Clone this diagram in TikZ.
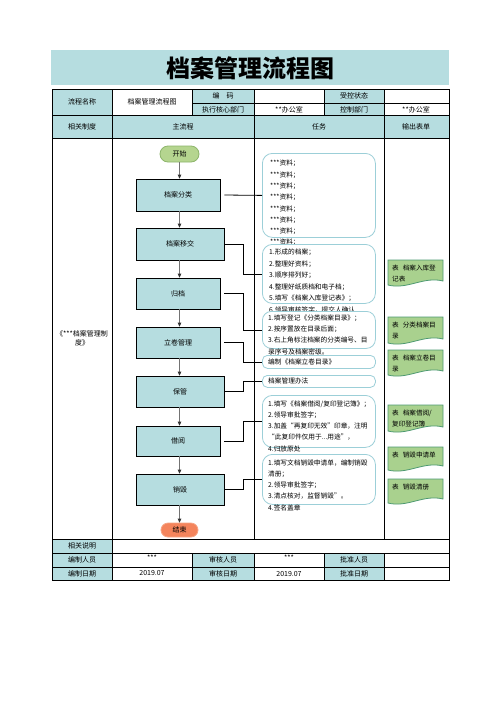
\documentclass[tikz,border=0pt]{standalone}
\usepackage{fontspec}
\setmainfont{Noto Sans CJK SC}
\usetikzlibrary{arrows.meta}
\definecolor{hdcol}{HTML}{B6DDE0}
\definecolor{tbcol}{HTML}{9CCFD8}
\definecolor{docfill}{HTML}{A9D18E}
\definecolor{docline}{HTML}{4E9A72}
\definecolor{startfill}{HTML}{B5D58F}
\definecolor{startline}{HTML}{8DB56B}
\definecolor{endfill}{HTML}{F4845C}
\definecolor{endline}{HTML}{F6A585}
\newcommand\outdoc[6]{%
  \draw[docst] (#2,#3) -- (#4,#3) -- ({#4},{#5-5}) .. controls ({#2+0.65*(#4-#2)},{#5-10}) and ({#2+0.35*(#4-#2)},{#5+4}) .. ({#2},{#5-1}) -- cycle;
  \node[doctext] (#1) at ({#2+4},{#3+5}) {#6};
}
\begin{document}
\begin{tikzpicture}[x=1pt,y=-1pt,
  tfont/.style={font=\fontsize{7}{8}\selectfont},
  cell/.style={tfont,inner sep=0pt},
  grid/.style={line width=0.8pt,black},
  flowbox/.style={draw=black,fill=hdcol,line width=0.8pt,inner sep=0pt,tfont},
  taskbox/.style={draw=tbcol,fill=white,line width=0.8pt,inner sep=0pt,anchor=north west},
  tasktext/.style={font=\fontsize{6.7}{11.3}\selectfont,inner sep=0pt,anchor=north west,align=left},
  conn/.style={line width=0.8pt,black},
  arr/.style={line width=0.9pt,black!55,-{Triangle[length=4pt,width=3.6pt,color=black!80]}},
  docst/.style={draw=docline,fill=docfill,line width=0.8pt},
  doctext/.style={font=\fontsize{6.6}{11}\selectfont,inner sep=0pt,anchor=north west,align=left}
]
\useasboundingbox (0,0) rectangle (496,702);
\fill[white] (0,0) rectangle (496,702);
% title band
\fill[hdcol] (51,50) rectangle (449,85);
\node[font=\fontsize{24}{24}\selectfont\bfseries,inner sep=0pt] (title) at (250,68) {档案管理流程图};
% teal cells
\fill[hdcol] (52,89) rectangle (112,115);
\fill[hdcol] (192,89) rectangle (254,115);
\fill[hdcol] (324,89) rectangle (384,115);
\fill[hdcol] (52,115) rectangle (449,138);
\fill[hdcol] (52,539) rectangle (112,580);
\fill[hdcol] (192,553) rectangle (254,580);
\fill[hdcol] (324,553) rectangle (384,580);
% grid
\draw[grid,line width=1pt] (52,89) rectangle (449,580);
\draw[grid] (52,115) -- (449,115);
\draw[grid] (52,138) -- (449,138);
\draw[grid] (52,539) -- (449,539);
\draw[grid] (52,553) -- (449,553);
\draw[grid] (52,567) -- (449,567);
\draw[grid] (192,103) -- (449,103);
\draw[grid] (112,89) -- (112,580);
\draw[grid] (192,89) -- (192,115);
\draw[grid] (192,553) -- (192,580);
\draw[grid] (254,89) -- (254,539);
\draw[grid] (254,553) -- (254,580);
\draw[grid] (324,89) -- (324,115);
\draw[grid] (324,553) -- (324,580);
\draw[grid] (384,89) -- (384,539);
\draw[grid] (384,553) -- (384,580);
% table texts
\node[cell] (h1) at (82,102) {流程名称};
\node[cell] (h2) at (152,102) {档案管理流程图};
\node[cell] (h3) at (223,96) {编\hspace{7pt}码};
\node[cell] (h4) at (223,109.5) {执行核心部门};
\node[cell] (h5) at (354,96) {受控状态};
\node[cell] (h6) at (354,109.5) {控制部门};
\node[cell] (h7) at (289,109.5) {**办公室};
\node[cell] (h8) at (416,109.5) {**办公室};
\node[cell] (k1) at (82,126.5) {相关制度};
\node[cell] (k2) at (183,126.5) {主流程};
\node[cell] (k3) at (319,126.5) {任务};
\node[cell] (k4) at (416,126.5) {输出表单};
\node[cell,align=center] (law) at (82,338) {《***档案管理制\\[1pt]度》};
\node[cell] (b1) at (82,546) {相关说明};
\node[cell] (b2) at (82,560) {编制人员};
\node[cell] (b3) at (152,558) {***};
\node[cell] (b4) at (223,560) {审核人员};
\node[cell] (b5) at (289,558) {***};
\node[cell] (b6) at (354,560) {批准人员};
\node[cell] (b7) at (82,573.5) {编制日期};
\node[cell] (b8) at (152,572.5) {2019.07};
\node[cell] (b9) at (223,573.5) {审核日期};
\node[cell] (b10) at (289,573.5) {2019.07};
\node[cell] (b11) at (354,573.5) {批准日期};
% flow nodes
\node[draw=startline,fill=startfill,line width=0.8pt,rounded corners=8pt,minimum width=39pt,minimum height=16pt,inner sep=0pt,tfont] (s) at (179.5,154) {开始};
\node[flowbox,minimum width=84pt,minimum height=32pt] (c1) at (178,195) {档案分类};
\node[flowbox,minimum width=88pt,minimum height=32pt] (c2) at (180,244) {档案移交};
\node[flowbox,minimum width=84pt,minimum height=31pt] (c3) at (178,293.5) {归档};
\node[flowbox,minimum width=84pt,minimum height=31pt] (c4) at (178,342.5) {立卷管理};
\node[flowbox,minimum width=88pt,minimum height=31pt] (c5) at (180,391.5) {保管};
\node[flowbox,minimum width=84pt,minimum height=30pt] (c6) at (178,441) {借阅};
\node[flowbox,minimum width=88pt,minimum height=31pt] (c7) at (180,489.5) {销毁};
\node[draw=endline,fill=endfill,line width=0.8pt,rounded corners=7pt,minimum width=37pt,minimum height=14pt,inner sep=0pt,tfont] (e) at (179.5,530) {结束};
% arrows
\draw[arr] (s.south) -- (s.south |- c1.north);
\draw[arr] (s.south |- c1.south) -- (s.south |- c2.north);
\draw[arr] (s.south |- c2.south) -- (s.south |- c3.north);
\draw[arr] (s.south |- c3.south) -- (s.south |- c4.north);
\draw[arr] (s.south |- c4.south) -- (s.south |- c5.north);
\draw[arr] (s.south |- c5.south) -- (s.south |- c6.north);
\draw[arr] (s.south |- c6.south) -- (s.south |- c7.north);
\draw[arr] (s.south |- c7.south) -- (e.north);
% task boxes
\node[taskbox,rounded corners=10pt,minimum width=113pt,minimum height=84pt] (t1) at (262,153) {};
\node[tasktext] (t1x) at (270,160) {***资料；\\***资料；\\***资料；\\***资料；\\***资料；\\***资料；\\***资料；\\***资料；};
\node[taskbox,rounded corners=10pt,minimum width=113pt,minimum height=59pt] (t2) at (262,244) {};
\node[tasktext,font=\fontsize{6.7}{11.5}\selectfont] (t2x) at (269,249) {1.形成的档案；\\2.整理好资料；\\3.顺序排列好；\\4.整理好纸质档和电子档；\\5.填写《档案入库登记表》；\\6.领导审核签字，提交人确认};
\node[taskbox,rounded corners=9pt,minimum width=113pt,minimum height=37pt] (t3) at (262,311) {};
\node[tasktext] (t3x) at (268,314.5) {1.填写登记《分类档案目录》；\\2.按序置放在目录后面；\\3.右上角标注档案的分类编号、目\\录序号及档案密级。};
\node[taskbox,rounded corners=5pt,minimum width=113pt,minimum height=13pt] (t4) at (262,355) {};
\node[tasktext,anchor=west] (t4x) at (268,361.5) {编制《档案立卷目录》};
\node[taskbox,rounded corners=5pt,minimum width=113pt,minimum height=12pt] (t5) at (262,375) {};
\node[tasktext,anchor=west] (t5x) at (268,381) {档案管理办法};
\node[taskbox,rounded corners=10pt,minimum width=113pt,minimum height=52pt] (t6) at (262,395) {};
\node[tasktext,font=\fontsize{6.7}{11.2}\selectfont] (t6x) at (268,400.5) {1.填写《档案借阅/复印登记簿》；\\2.领导审批签字；\\3.加盖“再复印无效”印章，注明\\“此复印件仅用于...用途”，\\4.归放原处};
\node[taskbox,rounded corners=10pt,minimum width=113pt,minimum height=50pt] (t7) at (262,454) {};
\node[tasktext,font=\fontsize{6.7}{11.2}\selectfont] (t7x) at (268,459.5) {1.填写文档销毁申请单，编制销毁\\清册；\\2.领导审批签字；\\3.清点核对，监督销毁”。\\4.签名盖章};
% connectors
\draw[conn] ([xshift=4pt]c1.east) -- (t1.west);
\draw[conn] (c2.east) -- ++(19,0) |- (t2.west);
\draw[conn] ([xshift=4pt]c3.east) -- ++(19,0) |- (t3.west);
\draw[conn] ([xshift=4pt]c4.east) -- ++(19,0) |- (t4.west);
\draw[conn] (c5.east) -- ++(19,0) |- (t5.west);
\draw[conn] ([xshift=4pt]c6.east) -- ++(19,0) |- (t6.west);
\draw[conn] (c7.east) -- ++(19,0) |- (t7.west);
% output documents
\outdoc{o1}{388}{260}{443}{286}{表\hspace{4pt}档案入库登\\记表}
\outdoc{o2}{388}{317}{443}{344}{表\hspace{4pt}分类档案目\\录}
\outdoc{o3}{388}{350}{443}{376}{表\hspace{4pt}档案立卷目\\录}
\outdoc{o4}{388}{405}{443}{432}{表\hspace{4pt}档案借阅/\\复印登记簿}
\outdoc{o5}{388}{447}{443}{471}{表\hspace{4pt}销毁申请单}
\outdoc{o6}{388}{479}{443}{504}{表\hspace{4pt}销毁清册}
\end{tikzpicture}
\end{document}
